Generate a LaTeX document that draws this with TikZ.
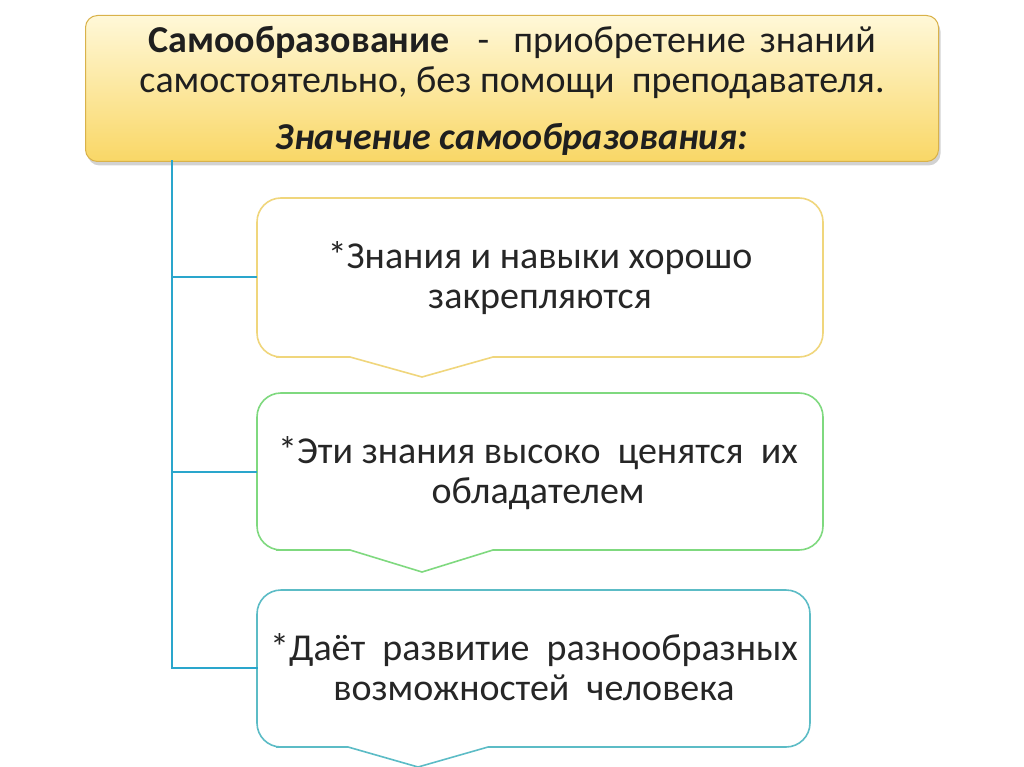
\documentclass[tikz,border=0pt]{standalone}
\usepackage{fontspec}
\setmainfont{Carlito}
\usetikzlibrary{shadows}
\definecolor{hdrtop}{HTML}{FFF8D8}
\definecolor{hdrbot}{HTML}{F9D766}
\definecolor{hdrline}{HTML}{D9B24A}
\definecolor{conncol}{HTML}{2AA6CC}
\definecolor{ycol}{HTML}{F0D67C}
\definecolor{gcol}{HTML}{7FD97F}
\definecolor{tcol}{HTML}{5CBCC6}
\begin{document}
\begin{tikzpicture}[x=1pt,y=-1pt,
  hdrbox/.style={draw=hdrline,line width=1pt,rounded corners=12pt,top color=hdrtop,bottom color=hdrbot,
     drop shadow={shadow xshift=2pt,shadow yshift=-4pt,opacity=0.35}},
  conn/.style={draw=conncol,line width=2.8pt},
  callout/.style={line width=1.6pt,fill=white},
  boxtext/.style={font=\fontsize{38}{40}\selectfont,align=center,inner sep=0pt,text=black!85},
  hdrtext/.style={font=\fontsize{38}{40}\selectfont,align=center,inner sep=0pt,text=black!88}]
\useasboundingbox (0,0) rectangle (1024,767);
\fill[white] (0,0) rectangle (1024,767);
% header
\node[hdrbox,minimum width=853pt,minimum height=146pt,anchor=north west] (hdr) at (85,15) {};
\node[hdrtext,anchor=base] (h1) at (512,53) {\textbf{Самообразование}\hspace{28pt}-\hspace{24pt}приобретение\hspace{14pt}знаний};
\node[hdrtext,anchor=base] (h2) at (512,93) {самостоятельно, без помощи\ \ преподавателя.};
\node[hdrtext,anchor=base] (h3) at (512,150) {\textbf{\itshape Значение самообразования:}};
% callout boxes
\draw[callout,draw=ycol] (350,357) -- (422,377) -- (493,357)
  {[rounded corners=24pt] -- (823,357) -- (823,198) -- (257,198) -- (257,357) -- (300,357)} -- cycle;
\draw[callout,draw=gcol] (350,550) -- (422,572) -- (493,550)
  {[rounded corners=24pt] -- (823,550) -- (823,393) -- (257,393) -- (257,550) -- (300,550)} -- cycle;
\draw[callout,draw=tcol] (348,747) -- (418,767) -- (488,747)
  {[rounded corners=24pt] -- (810,747) -- (810,590) -- (257,590) -- (257,747) -- (300,747)} -- cycle;
\coordinate (b1w) at (257,277);
\coordinate (b2w) at (257,472);
\coordinate (b3w) at (257,668);
\node[boxtext,anchor=base] (t1) at (540,308) {*Знания и навыки хорошо\\закрепляются};
\node[boxtext,anchor=base] (t2) at (538,503) {*Эти знания высоко\ \ ценятся\ \ их\\обладателем};
\node[boxtext,anchor=base] (t3) at (534,700) {*Даёт\ \ развитие\ \ разнообразных\\возможностей\ \ человека};
% connectors
\coordinate (trunktop) at (172,161);
\draw[conn,line cap=rect] (trunktop) |- (b3w);
\draw[conn] (trunktop |- b1w) -- (b1w);
\draw[conn] (trunktop |- b2w) -- (b2w);
\end{tikzpicture}
\end{document}
